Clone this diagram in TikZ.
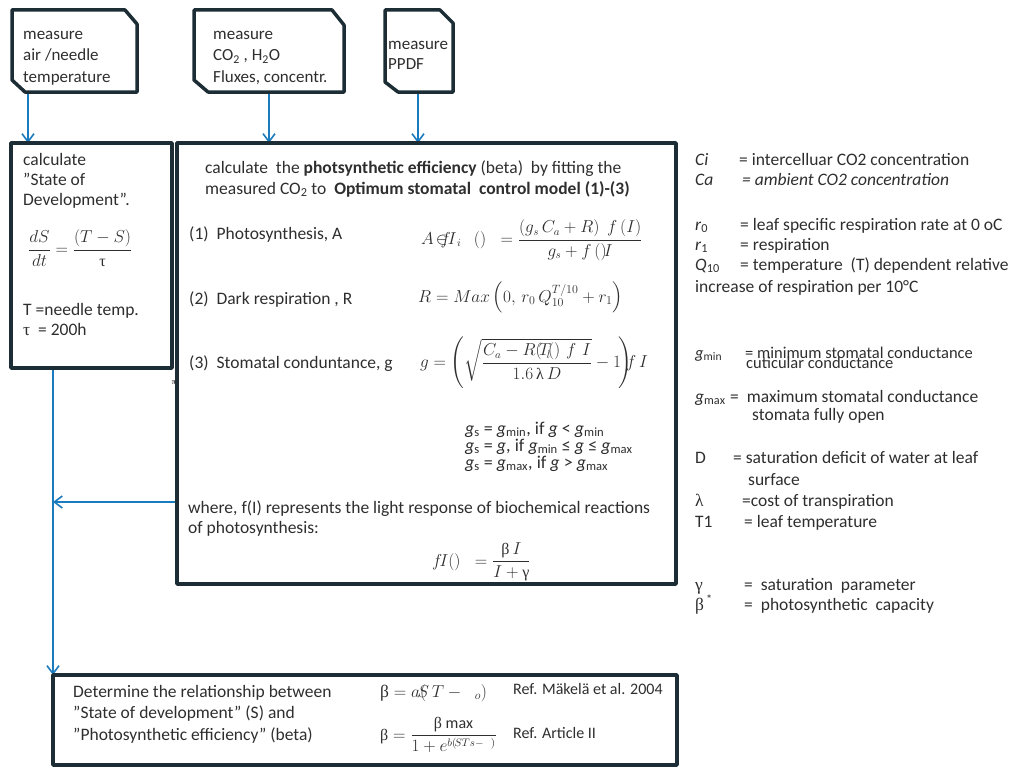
\documentclass[tikz,border=0pt]{standalone}
\usepackage{amsmath}
\usepackage{fontspec}
\setmainfont{Carlito}
\newfontfamily\grk{Liberation Serif}
\usetikzlibrary{arrows.meta}
\definecolor{ink}{HTML}{2E2E2E}
\definecolor{frame}{HTML}{1C2D35}
\definecolor{flow}{HTML}{1A7BBE}
\newcommand\gk[1]{\mbox{\grk #1}}
\begin{document}
\begin{tikzpicture}[x=1pt,y=-1pt,
  boxline/.style={draw=frame, line width=3.5pt, line join=round},
  area/.style={rectangle, inner sep=0pt, outer sep=0pt, anchor=north west},
  txt/.style={anchor=base west, inner sep=0pt, text=ink, font=\fontsize{17.5pt}{21pt}\selectfont},
  boxtxt/.style={txt, font=\fontsize{17pt}{21pt}\selectfont},
  small/.style={txt, font=\fontsize{16.5pt}{18pt}\selectfont},
  cond/.style={txt, font=\fontsize{18pt}{18pt}\selectfont},
  reftxt/.style={txt, font=\fontsize{16pt}{19pt}\selectfont},
  eq/.style={anchor=west, inner sep=0pt, text=ink, font=\fontsize{16pt}{20pt}\selectfont},
  flowline/.style={draw=flow, line width=1.6pt, -{Straight Barb[length=8pt,width=12pt,line width=1.6pt]}}
]
\useasboundingbox (0,0) rectangle (1017,768);

% ---- frames (named areas) ----
\node[area, minimum width=125pt, minimum height=82pt] (m1) at (12,10) {};
\node[area, minimum width=150pt, minimum height=82pt] (m2) at (194,10) {};
\node[area, minimum width=68pt, minimum height=82pt] (m3) at (385,10) {};
\node[area, minimum width=161pt, minimum height=225pt] (sd) at (11,143) {};
\node[area, minimum width=499pt, minimum height=441pt] (main) at (177,143) {};
\node[area, minimum width=624pt, minimum height=90pt] (bot) at (53,675) {};

% ---- connectors ----
\draw[flowline] ([xshift=16pt]m1.south west) -- ([xshift=16pt]m1.south west |- sd.north);
\draw[flowline] (m2.south) -- (m2.south |- main.north);
\draw[flowline] ([xshift=-1pt]m3.south) -- ([xshift=-1pt]m3.south |- main.north);
\draw[flowline] (sd.south -| bot.north west) -- (bot.north west);
\draw[flowline] ([yshift=-359pt]main.north west) -- ([yshift=-359pt]main.north west -| bot.north west);

% ---- outlines ----
\draw[boxline] (m1.north west) -- ([xshift=-12pt]m1.north east) -- ([yshift=-14pt]m1.north east)
  -- (m1.south east) -- ([xshift=13pt]m1.south west) -- ([yshift=12pt]m1.south west) -- cycle;
\draw[boxline] (m2.north west) -- ([xshift=-12pt]m2.north east) -- ([yshift=-15pt]m2.north east)
  -- (m2.south east) -- ([xshift=14pt]m2.south west) -- ([yshift=12pt]m2.south west) -- cycle;
\draw[boxline] (m3.north west) -- ([xshift=-13pt]m3.north east) -- ([yshift=-13pt]m3.north east)
  -- (m3.south east) -- ([xshift=13pt]m3.south west) -- ([yshift=10pt]m3.south west) -- cycle;
\draw[boxline] (sd.north west) rectangle (sd.south east);
\draw[boxline] (main.north west) rectangle (main.south east);
\draw[boxline] (bot.north west) rectangle (bot.south east);

% ---- measuring boxes ----
\node[boxtxt] (a1) at (23,40) {measure};
\node[boxtxt] (a2) at (23,61) {air /needle};
\node[boxtxt] (a3) at (23,82) {temperature};
\node[boxtxt] (b1) at (213,40) {measure};
\node[boxtxt] (b2) at (213,61) {CO\textsubscript{2} , H\textsubscript{2}O};
\node[boxtxt] (b3) at (213,82) {Fluxes, concentr.};
\node[boxtxt] (c1) at (388,49) {measure};
\node[boxtxt] (c2) at (388,70) {PPDF};

% ---- state of development ----
\node[txt] (s1) at (23,165) {calculate};
\node[txt] (s2) at (23,185) {”State of};
\node[txt] (s3) at (23,205) {Development”.};
\node[eq] (s4) at (28,248) {$\dfrac{dS}{dt}=\dfrac{(T-S)}{\gk{τ}}$};
\node[txt] (s5) at (23,315) {T =needle temp.};
\node[txt] (s6) at (23,335) {\gk{τ}\ \ = 200h};

% ---- photosynthesis model ----
\node[txt] (p1) at (205,173) {calculate \ the \textbf{photsynthetic efficiency} (beta) \ by fitting the};
\node[txt] (p2) at (205,194) {measured CO\textsubscript{2} to \ \textbf{Optimum stomatal \ control model (1)-(3)}};
\node[txt] (p3) at (189,239) {(1) \ Photosynthesis, A};
\node[txt] (p4) at (189,304) {(2) \ Dark respiration , R};
\node[txt] (p5) at (189,368) {(3) \ Stomatal conduntance, g};
\node[eq] (e1) at (421,240) {$A\!\in\!\!\!\!f\!I_{\,i}\;\;\,()\;\;=\dfrac{(g_s\,C_a+R)\;\,f\,(I)}{g_s+f\,()\!I}$};
\node[txt] (e2) at (418,302) {$R=Max\left(0,\,r_0\,Q_{10}^{T/10}+r_1\right)$};
\node[eq] (e3) at (420,363) {$g=\left(\sqrt{\dfrac{C_a-R(\!T_{\!l}\!()\,\,f\,\,I}{1.6\,\gk{λ}\,D}}-1\!\right)\!\!\!f\,I$};
\node[cond] (g1) at (465,434) {\textit{g}\textsubscript{s} = \textit{g}\textsubscript{min}, if \textit{g} < \textit{g}\textsubscript{min}};
\node[cond] (g2) at (465,451) {\textit{g}\textsubscript{s} = \textit{g}, if \textit{g}\textsubscript{min} ≤ \textit{g} ≤ \textit{g}\textsubscript{max}};
\node[cond] (g3) at (465,468) {\textit{g}\textsubscript{s} = \textit{g}\textsubscript{max}, if \textit{g} > \textit{g}\textsubscript{max}};
\node[txt] (w1) at (188,513) {where, f(I) represents the light response of biochemical reactions};
\node[txt] (w2) at (188,533) {of photosynthesis:};
\node[eq] (e4) at (432,562) {$f\!I()\;\;=\dfrac{\gk{β}\,I}{I+\gk{γ}}$};
\node[anchor=center, inner sep=0pt, text=ink, font=\fontsize{8pt}{9pt}\selectfont\bfseries] (pi) at (174,383) {\gk{π}};

% ---- relationship ----
\node[txt] (d1) at (73,697) {Determine the relationship between};
\node[txt] (d2) at (73,718) {”State of development” (S) and};
\node[txt] (d3) at (73,740) {”Photosynthetic efficiency” (beta)};
\node[txt] (e5) at (380,697) {$\gk{β}=a(\!\!\!S\,T-\;\;{}_{o})$};
\node[eq] (e6) at (380,735) {$\gk{β}=\dfrac{\gk{β}\ \mathrm{max}}{1+e^{b(\!S T s-\ \ )}}$};
\node[reftxt] (r1) at (513,694) {Ref. Mäkelä et al. 2004};
\node[reftxt] (r2) at (513,738) {Ref. Article II};

% ---- symbol list ----
\node[txt] (k1) at (695,165) {\textit{Ci}};
\node[txt] (k1t) at (739,165) {= intercelluar CO2 concentration};
\node[txt] (k2) at (695,185) {\textit{Ca}};
\node[txt] (k2t) at (742,185) {\textit{= ambient CO2 concentration}};
\node[txt] (k3) at (695,230) {\textit{r}\textsubscript{0}};
\node[txt] (k3t) at (740,230) {=\hspace{4pt}leaf specific respiration rate at 0 oC};
\node[txt] (k4) at (695,250) {\textit{r}\textsubscript{1}};
\node[txt] (k4t) at (740,250) {=\hspace{4pt}respiration};
\node[txt] (k5) at (695,270) {\textit{Q}\textsubscript{10}};
\node[txt] (k5t) at (740,270) {=\hspace{4pt}temperature \ (T) dependent relative};
\node[txt] (k6) at (695,292) {increase of respiration per 10°C};
\node[small] (k7) at (695,358) {\textit{g}\textsubscript{min}};
\node[small] (k7t) at (745,358) {= minimum stomatal conductance};
\node[small] (k7u) at (746,368) {cuticular conductance};
\node[txt] (k8) at (695,402) {\textit{g}\textsubscript{max}};
\node[txt] (k8t) at (730,402) {= \ maximum stomatal conductance};
\node[txt] (k8u) at (752,420) {stomata fully open};
\node[txt] (k9) at (695,463) {D};
\node[txt] (k9t) at (733,463) {= saturation deficit of water at leaf};
\node[txt] (k9u) at (748,485) {surface};
\node[txt] (k10) at (695,506) {\gk{λ}};
\node[txt] (k10t) at (742,506) {=cost of transpiration};
\node[txt] (k11) at (695,527) {T1};
\node[txt] (k11t) at (744,527) {= leaf temperature};
\node[txt] (k12) at (695,590) {\gk{γ}};
\node[txt] (k12t) at (744,590) {= \ saturation \ parameter};
\node[txt] (k13) at (695,610) {\gk{β}\textsuperscript{\,*}};
\node[txt] (k13t) at (744,610) {= \ photosynthetic \ capacity};
\end{tikzpicture}
\end{document}
